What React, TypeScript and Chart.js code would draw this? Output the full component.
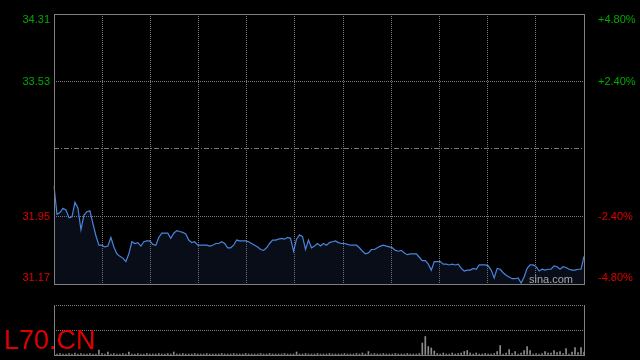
import React, { useEffect, useRef } from 'react';
import { Chart, registerables } from 'chart.js';

Chart.register(...registerables);

const SYMBOL = 'L70.CN';
const WATERMARK = 'sina.com';
const PREV_CLOSE = 32.74;
const PCT_TICKS = [-4.8, -2.4, 0, 2.4, 4.8];
const GRID_COLUMNS = 11;
const VOLUME_TICKS = [0, 50, 100];

const PRICES = [
  32.31, 31.98, 32.00, 32.05, 32.03, 31.94, 31.95, 32.12, 32.05, 31.80,
  31.97, 32.01, 32.02, 31.87, 31.73, 31.62, 31.62, 31.60, 31.61, 31.71,
  31.60, 31.52, 31.49, 31.47, 31.43, 31.52, 31.66, 31.64, 31.65, 31.61,
  31.66, 31.67, 31.67, 31.63, 31.62, 31.71, 31.76, 31.76, 31.76, 31.70,
  31.76, 31.79, 31.78, 31.77, 31.75, 31.68, 31.65, 31.66, 31.62, 31.62,
  31.62, 31.62, 31.61, 31.62, 31.64, 31.64, 31.66, 31.64, 31.59, 31.59,
  31.62, 31.68, 31.67, 31.67, 31.67, 31.66, 31.64, 31.62, 31.60, 31.57,
  31.56, 31.59, 31.64, 31.68, 31.68, 31.69, 31.70, 31.69, 31.71, 31.70,
  31.55, 31.69, 31.74, 31.72, 31.57, 31.68, 31.59, 31.61, 31.64, 31.61,
  31.64, 31.62, 31.65, 31.66, 31.67, 31.65, 31.64, 31.64, 31.63, 31.62,
  31.62, 31.62, 31.59, 31.55, 31.52, 31.53, 31.57, 31.57, 31.59, 31.61,
  31.62, 31.61, 31.60, 31.59, 31.56, 31.55, 31.56, 31.53, 31.51, 31.52,
  31.52, 31.52, 31.48, 31.44, 31.44, 31.40, 31.33, 31.43, 31.43, 31.43,
  31.40, 31.40, 31.39, 31.40, 31.39, 31.40, 31.35, 31.32, 31.33, 31.33,
  31.35, 31.34, 31.39, 31.39, 31.39, 31.38, 31.33, 31.24, 31.35, 31.34,
  31.30, 31.27, 31.25, 31.23, 31.23, 31.24, 31.18, 31.25, 31.35, 31.39,
  31.39, 31.37, 31.32, 31.34, 31.33, 31.34, 31.34, 31.38, 31.37, 31.34,
  31.37, 31.36, 31.34, 31.33, 31.33, 31.34, 31.34, 31.49,
];

const VOLUMES = [
  4, 2, 3, 2, 2, 3, 2, 4, 2, 3,
  2, 2, 3, 2, 2, 10, 3, 2, 6, 2,
  3, 2, 2, 3, 2, 6, 2, 2, 3, 2,
  2, 3, 2, 2, 2, 3, 2, 2, 3, 2,
  6, 2, 2, 3, 2, 2, 2, 3, 2, 2,
  2, 3, 2, 2, 2, 2, 3, 2, 2, 2,
  3, 2, 2, 2, 3, 2, 2, 2, 2, 3,
  2, 2, 3, 2, 2, 2, 2, 3, 2, 2,
  2, 6, 2, 2, 3, 2, 2, 2, 3, 2,
  2, 2, 3, 2, 2, 2, 2, 3, 2, 2,
  2, 3, 2, 4, 2, 7, 2, 3, 2, 2,
  3, 2, 2, 2, 3, 2, 2, 2, 3, 2,
  2, 2, 3, 24, 37, 17, 14, 8, 3, 2,
  4, 2, 2, 4, 2, 3, 4, 7, 9, 4,
  2, 4, 2, 2, 3, 2, 2, 3, 7, 19,
  2, 4, 11, 3, 7, 2, 4, 9, 17, 9,
  2, 3, 2, 3, 7, 4, 4, 9, 5, 7,
  3, 13, 2, 6, 15, 5, 15, 6,
];

const LABELS = PRICES.map((_, i) => String(i));

const GREEN = '#00a800';
const RED = '#e00000';
const GRID = '#7a7a7a';
const FRAME = '#808080';
const LINE = '#4a84dc';
const FILL = 'rgba(45, 75, 135, 0.17)';
const VOL_BAR = '#8c8c8c';
const FONT = { family: 'Arial, "Liberation Sans", sans-serif', size: 11, lineHeight: 1.1 };

const priceTicks = PCT_TICKS.map((p) => PREV_CLOSE * (1 + p / 100));
const Y_MIN = priceTicks[0];
const Y_MAX = priceTicks[priceTicks.length - 1];
const MID_INDEX = PCT_TICKS.indexOf(0);

function shiftLabel(text: string, index: number, count: number) {
  if (index === count - 1) return ['', text];
  if (index === 0) return [text, ''];
  return text;
}

const tickColor = (ctx: any) => (ctx.tick && ctx.tick.value > PREV_CLOSE + 1e-9 ? GREEN : RED);

function fixWidth(width: number) {
  return (s: any) => {
    s.width = width;
    s.paddingTop = 0;
    s.paddingBottom = 0;
  };
}

const mainFrame = {
  id: 'mainFrame',
  afterDraw(chart: any) {
    const { ctx, chartArea: a } = chart;
    ctx.save();
    ctx.strokeStyle = FRAME;
    ctx.lineWidth = 1;
    ctx.setLineDash([]);
    ctx.strokeRect(a.left + 0.5, a.top + 0.5, a.right - a.left, a.bottom - a.top);
    ctx.font = '11px Arial, "Liberation Sans", sans-serif';
    ctx.fillStyle = '#a8a8a8';
    ctx.textAlign = 'right';
    ctx.textBaseline = 'alphabetic';
    ctx.fillText(WATERMARK, a.right - 11, a.bottom - 1);
    ctx.restore();
  },
};

const volFrame = {
  id: 'volFrame',
  afterDraw(chart: any) {
    const { ctx, chartArea: a } = chart;
    ctx.save();
    ctx.strokeStyle = FRAME;
    ctx.lineWidth = 1;
    ctx.setLineDash([]);
    ctx.beginPath();
    ctx.moveTo(a.left + 0.5, a.top);
    ctx.lineTo(a.left + 0.5, a.bottom + 1);
    ctx.moveTo(a.right + 0.5, a.top);
    ctx.lineTo(a.right + 0.5, a.bottom + 1);
    ctx.moveTo(a.left, a.bottom + 0.5);
    ctx.lineTo(a.right + 1, a.bottom + 0.5);
    ctx.stroke();
    ctx.restore();
  },
};

export default function App() {
  const mainRef = useRef<HTMLCanvasElement>(null);
  const volRef = useRef<HTMLCanvasElement>(null);

  useEffect(() => {
    const main = new Chart(mainRef.current as HTMLCanvasElement, {
      type: 'line',
      data: {
        labels: LABELS,
        datasets: [
          {
            data: PRICES,
            borderColor: LINE,
            borderWidth: 1.2,
            backgroundColor: FILL,
            fill: 'start',
            pointRadius: 0,
            tension: 0,
            xAxisID: 'x',
            yAxisID: 'y',
          },
        ],
      },
      options: {
        animation: false,
        responsive: false,
        devicePixelRatio: 1,
        layout: { padding: { top: 14, bottom: 6, left: 0, right: 0 } },
        plugins: { legend: { display: false }, tooltip: { enabled: false } },
        scales: {
          x: { type: 'category', display: false, offset: false },
          xg: {
            type: 'linear',
            position: 'bottom',
            min: 0,
            max: GRID_COLUMNS,
            afterBuildTicks: (s: any) => {
              s.ticks = Array.from({ length: GRID_COLUMNS + 1 }, (_, i) => ({ value: i }));
            },
            afterFit: (s: any) => {
              s.height = 0;
              s.paddingLeft = 0;
              s.paddingRight = 0;
            },
            ticks: { display: false },
            grid: { color: GRID, drawTicks: false, lineWidth: 1 },
            border: { display: false, dash: [1, 1] },
          },
          y: {
            type: 'linear',
            position: 'left',
            min: Y_MIN,
            max: Y_MAX,
            afterBuildTicks: (s: any) => {
              s.ticks = priceTicks.map((v) => ({ value: v }));
            },
            afterFit: fixWidth(54),
            ticks: {
              padding: 4,
              color: tickColor,
              font: FONT,
              autoSkip: false,
              callback: (value: any, index: number, ticks: any[]) => {
                if (index === MID_INDEX) return '';
                return shiftLabel(Number(value).toFixed(2), index, ticks.length);
              },
            },
            grid: { color: GRID, drawTicks: false, lineWidth: 1 },
            border: {
              display: false,
              dash: (ctx: any) => (ctx.index === MID_INDEX ? [5, 2, 1, 2] : [1, 1]),
            },
          },
          yr: {
            type: 'linear',
            position: 'right',
            min: Y_MIN,
            max: Y_MAX,
            afterBuildTicks: (s: any) => {
              s.ticks = priceTicks.map((v) => ({ value: v }));
            },
            afterFit: fixWidth(56),
            ticks: {
              padding: 6,
              color: tickColor,
              font: FONT,
              autoSkip: false,
              callback: (_value: any, index: number, ticks: any[]) => {
                const p = PCT_TICKS[index];
                if (p === 0) return '';
                const txt = (p > 0 ? '+' : '') + p.toFixed(2) + '%';
                return shiftLabel(txt, index, ticks.length);
              },
            },
            grid: { display: false },
            border: { display: false },
          },
        },
      },
      plugins: [mainFrame],
    } as any);

    const vol = new Chart(volRef.current as HTMLCanvasElement, {
      type: 'bar',
      data: {
        labels: LABELS,
        datasets: [
          {
            data: VOLUMES,
            backgroundColor: VOL_BAR,
            barThickness: 1,
            borderWidth: 0,
          },
        ],
      },
      options: {
        animation: false,
        responsive: false,
        devicePixelRatio: 1,
        layout: { padding: { top: 15, bottom: 5, left: 0, right: 56 } },
        plugins: { legend: { display: false }, tooltip: { enabled: false } },
        scales: {
          x: { type: 'category', display: false, offset: false },
          y: {
            type: 'linear',
            position: 'left',
            min: VOLUME_TICKS[0],
            max: VOLUME_TICKS[VOLUME_TICKS.length - 1],
            afterBuildTicks: (s: any) => {
              s.ticks = VOLUME_TICKS.map((v) => ({ value: v }));
            },
            afterFit: fixWidth(54),
            ticks: { display: false },
            grid: {
              color: (ctx: any) => (ctx.index === 0 ? 'rgba(0,0,0,0)' : GRID),
              drawTicks: false,
              lineWidth: 1,
            },
            border: { display: false, dash: [1, 1] },
          },
        },
      },
      plugins: [volFrame],
    } as any);

    return () => {
      main.destroy();
      vol.destroy();
    };
  }, []);

  return (
    <div
      style={{
        position: 'fixed',
        left: 0,
        top: 0,
        width: 640,
        height: 360,
        background: '#000',
        overflow: 'hidden',
      }}
    >
      <canvas
        ref={mainRef}
        width={640}
        height={290}
        style={{ position: 'absolute', left: 0, top: 0, width: 640, height: 290 }}
      />
      <canvas
        ref={volRef}
        width={640}
        height={70}
        style={{ position: 'absolute', left: 0, top: 290, width: 640, height: 70 }}
      />
      <div
        style={{
          position: 'absolute',
          left: 4,
          top: 327,
          fontFamily: 'Arial, "Liberation Sans", sans-serif',
          fontSize: 27,
          lineHeight: '27px',
          color: RED,
          whiteSpace: 'nowrap',
        }}
      >
        {SYMBOL}
      </div>
    </div>
  );
}
